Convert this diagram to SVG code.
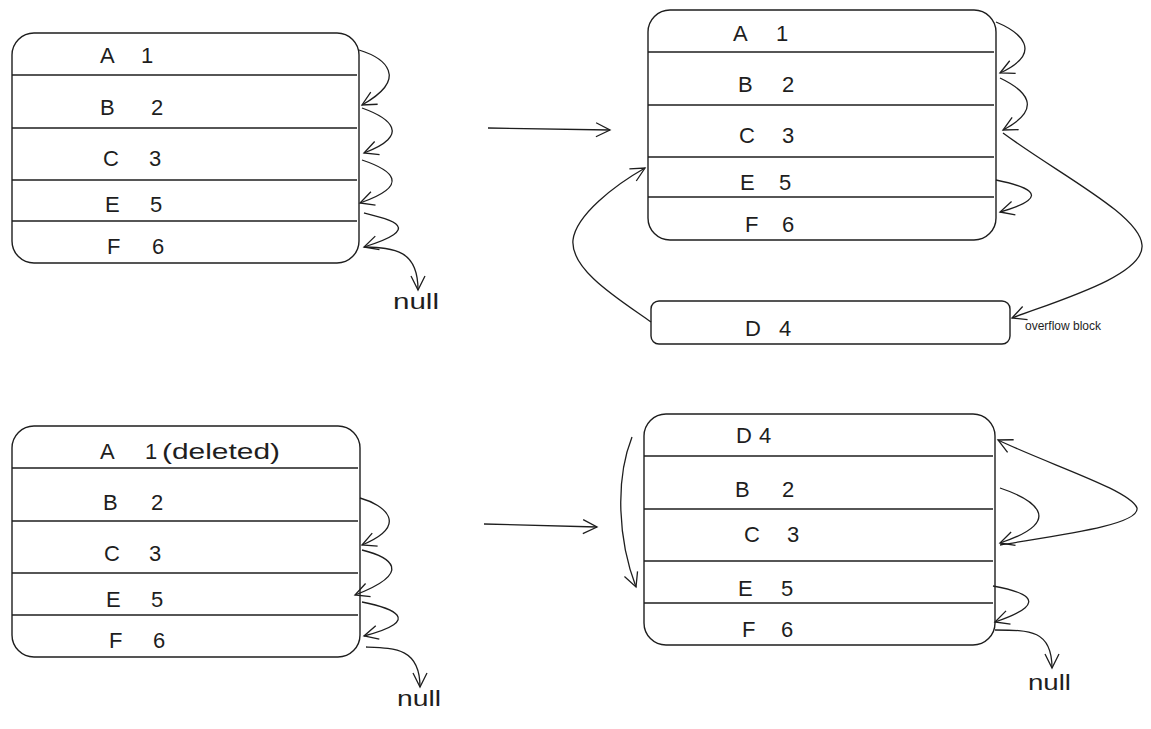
<svg xmlns="http://www.w3.org/2000/svg" width="1151" height="729" viewBox="0 0 1151 729">
<style>
.box{fill:#fff;stroke:#1e1e1e;stroke-width:1.4}
.row{stroke:#1e1e1e;stroke-width:1.4}
.t{font-family:"Liberation Sans",sans-serif;font-size:22px;fill:#1e1e1e}
.s{font-family:"Liberation Sans",sans-serif;font-size:12px;fill:#1e1e1e}
.c{fill:none;stroke:#1e1e1e;stroke-width:1.3;marker-end:url(#ah)}
</style>
<defs>
<marker id="ah" viewBox="-15 -9 17 18" markerWidth="17" markerHeight="18" refX="0" refY="0" orient="auto" markerUnits="userSpaceOnUse">
<path d="M-14,-7 L0,0 L-14,7" fill="none" stroke="#1e1e1e" stroke-width="1.3"/>
</marker>
</defs>
<rect width="1151" height="729" fill="#fff"/>

<g id="table-before-insert">
<rect class="box" x="12" y="33" width="347" height="230" rx="22"/>
<line class="row" x1="12" y1="75" x2="357" y2="75"/>
<line class="row" x1="12" y1="128" x2="357" y2="128"/>
<line class="row" x1="12" y1="180" x2="357" y2="180"/>
<line class="row" x1="12" y1="221" x2="357" y2="221"/>
<text class="t" x="100" y="63">A <tspan x="141">1</tspan></text>
<text class="t" x="100" y="115">B <tspan x="151">2</tspan></text>
<text class="t" x="103" y="166">C <tspan x="149">3</tspan></text>
<text class="t" x="105" y="212">E <tspan x="150">5</tspan></text>
<text class="t" x="107" y="254">F <tspan x="152">6</tspan></text>
</g>

<g id="table-after-insert">
<rect class="box" x="648" y="10" width="348" height="230" rx="22"/>
<line class="row" x1="648" y1="52" x2="994" y2="52"/>
<line class="row" x1="648" y1="105" x2="994" y2="105"/>
<line class="row" x1="648" y1="157" x2="994" y2="157"/>
<line class="row" x1="648" y1="197" x2="994" y2="197"/>
<text class="t" x="733" y="41">A <tspan x="776">1</tspan></text>
<text class="t" x="738" y="92">B <tspan x="782">2</tspan></text>
<text class="t" x="739" y="143">C <tspan x="782">3</tspan></text>
<text class="t" x="740" y="190">E <tspan x="779">5</tspan></text>
<text class="t" x="745" y="232">F <tspan x="782">6</tspan></text>
</g>

<g id="overflow-block">
<rect class="box" x="651" y="301" width="359" height="43" rx="8"/>
<text class="t" x="745" y="336">D <tspan x="779">4</tspan></text>
<text class="s" x="1025" y="330">overflow block</text>
</g>

<g id="table-before-delete">
<rect class="box" x="12" y="426" width="348" height="231" rx="22"/>
<line class="row" x1="12" y1="468" x2="358" y2="468"/>
<line class="row" x1="12" y1="521" x2="358" y2="521"/>
<line class="row" x1="12" y1="573" x2="358" y2="573"/>
<line class="row" x1="12" y1="615" x2="358" y2="615"/>
<text class="t" x="100" y="459">A <tspan x="145">1</tspan> <tspan x="162" textLength="118" lengthAdjust="spacingAndGlyphs">(deleted)</tspan></text>
<text class="t" x="103" y="510">B <tspan x="151">2</tspan></text>
<text class="t" x="104" y="561">C <tspan x="149">3</tspan></text>
<text class="t" x="106" y="607">E <tspan x="151">5</tspan></text>
<text class="t" x="109" y="648">F <tspan x="153">6</tspan></text>
</g>

<g id="table-after-delete">
<rect class="box" x="644" y="414" width="351" height="231" rx="22"/>
<line class="row" x1="644" y1="456" x2="993" y2="456"/>
<line class="row" x1="644" y1="509" x2="993" y2="509"/>
<line class="row" x1="644" y1="561" x2="993" y2="561"/>
<line class="row" x1="644" y1="603" x2="993" y2="603"/>
<text class="t" x="736" y="443">D <tspan x="759">4</tspan></text>
<text class="t" x="735" y="497">B <tspan x="782">2</tspan></text>
<text class="t" x="744" y="542">C <tspan x="787">3</tspan></text>
<text class="t" x="738" y="596">E <tspan x="781">5</tspan></text>
<text class="t" x="742" y="637">F <tspan x="781">6</tspan></text>
</g>

<g id="null-labels">
<text class="t" x="393" y="309" textLength="46" lengthAdjust="spacingAndGlyphs">null</text>
<text class="t" x="397" y="706" textLength="44" lengthAdjust="spacingAndGlyphs">null</text>
<text class="t" x="1028" y="690" textLength="43" lengthAdjust="spacingAndGlyphs">null</text>
</g>

<g id="connectors">
<path class="c" d="M359,50 C385,58 410,78 362,105"/>
<path class="c" d="M362,108 C390,118 412,135 364,153"/>
<path class="c" d="M362,160 C392,170 412,185 360,203"/>
<path class="c" d="M364,213 C392,220 425,228 364,247"/>
<path class="c" d="M364,247 C395,248 418,250 418,290"/>
<path class="c" d="M488,128 L610,130"/>
<path class="c" d="M996,22 C1020,32 1045,52 1000,73"/>
<path class="c" d="M1000,78 C1025,90 1045,108 1003,130"/>
<path class="c" d="M1003,133 C1060,175 1140,215 1142,245 C1145,275 1060,300 1012,318"/>
<path class="c" d="M996,180 C1020,185 1060,195 1000,212"/>
<path class="c" d="M651,322 C620,300 570,270 573,240 C576,215 615,185 645,168"/>
<path class="c" d="M360,498 C385,505 410,525 362,545"/>
<path class="c" d="M362,550 C390,557 415,572 355,595"/>
<path class="c" d="M362,602 C392,608 425,620 364,636"/>
<path class="c" d="M366,647 C395,648 420,648 420,687"/>
<path class="c" d="M484,524 L597,527"/>
<path class="c" d="M632,437 C615,480 618,540 636,587"/>
<path class="c" d="M1000,488 C1030,498 1070,520 1000,543"/>
<path class="c" d="M1000,545 C1060,535 1140,525 1137,508 C1130,490 1050,465 998,440"/>
<path class="c" d="M993,586 C1015,590 1060,600 995,622"/>
<path class="c" d="M995,630 C1030,630 1052,630 1052,668"/>
</g>
</svg>
